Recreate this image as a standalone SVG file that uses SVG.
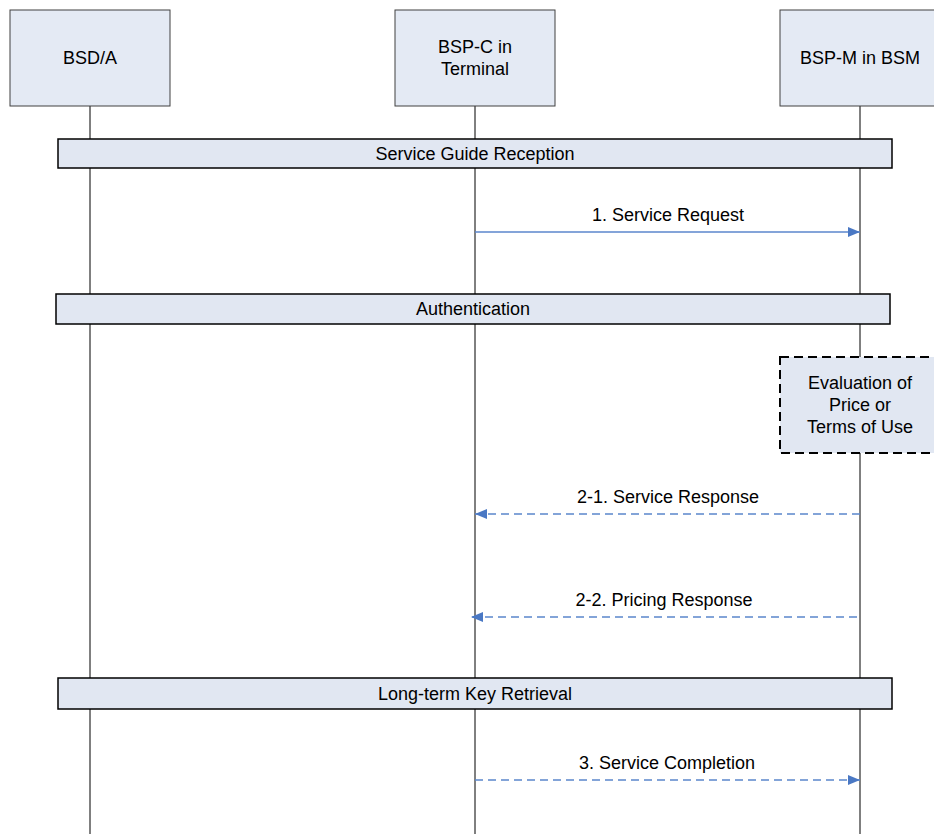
<svg xmlns="http://www.w3.org/2000/svg" width="934" height="834" viewBox="0 0 934 834">
<style>
  text { font-family: "Liberation Sans", Arial, sans-serif; font-size: 18px; fill: #000; text-anchor: middle; }
  .actor { fill: #e4eaf4; stroke: #404040; stroke-width: 1; }
  .bar { fill: #e1e7f2; stroke: #000; stroke-width: 1.5; }
  .life { stroke: #000; stroke-width: 1; fill: none; }
  .msg { stroke: #5b86cc; stroke-width: 1.3; fill: none; }
  .dash { stroke-dasharray: 8 5; }
  .eval { fill: #e1e7f2; stroke: #000; stroke-width: 2; stroke-dasharray: 9 5; }
</style>
<defs>
  <marker id="ah" markerWidth="12" markerHeight="10" refX="12" refY="5" orient="auto" markerUnits="userSpaceOnUse">
    <path d="M0,0 L12,5 L0,10 Z" fill="#4a78c4"/>
  </marker>
</defs>
<rect width="934" height="834" fill="#fff"/>
<g id="lifelines">
  <line class="life" x1="90" y1="106" x2="90" y2="834"/>
  <line class="life" x1="475" y1="106" x2="475" y2="834"/>
  <line class="life" x1="860" y1="106" x2="860" y2="834" stroke="#555"/>
</g>
<g id="actor-bsda">
  <rect class="actor" x="10" y="10" width="160" height="96"/>
  <text x="90" y="64">BSD/A</text>
</g>
<g id="actor-bspc">
  <rect class="actor" x="395" y="10" width="160" height="96"/>
  <text x="475" y="53">BSP-C in</text>
  <text x="475" y="75">Terminal</text>
</g>
<g id="actor-bspm">
  <rect class="actor" x="780" y="10" width="160" height="96"/>
  <text x="860" y="64">BSP-M in BSM</text>
</g>
<g id="bar-sgr">
  <rect class="bar" x="58" y="139" width="834" height="29"/>
  <text x="475" y="160">Service Guide Reception</text>
</g>
<g id="bar-auth">
  <rect class="bar" x="56" y="294" width="834" height="30"/>
  <text x="473" y="315">Authentication</text>
</g>
<g id="eval">
  <rect class="eval" x="780" y="357" width="160" height="96"/>
  <text x="860" y="389">Evaluation of</text>
  <text x="860" y="411">Price or</text>
  <text x="860" y="433">Terms of Use</text>
</g>
<g id="bar-ltk">
  <rect class="bar" x="58" y="678" width="834" height="31"/>
  <text x="475" y="700">Long-term Key Retrieval</text>
</g>
<g id="connectors">
  <line class="msg" x1="475" y1="232" x2="860" y2="232" stroke="#8eaee0" marker-end="url(#ah)"/>
  <line class="msg dash" x1="860" y1="514" x2="475" y2="514" marker-end="url(#ah)"/>
  <line class="msg dash" x1="857" y1="617" x2="471" y2="617" stroke="#7fa2dc" marker-end="url(#ah)"/>
  <line class="msg dash" x1="475" y1="780" x2="860" y2="780" stroke="#7fa2dc" marker-end="url(#ah)"/>
</g>
<g id="labels">
  <text x="668" y="221">1. Service Request</text>
  <text x="668" y="503">2-1. Service Response</text>
  <text x="664" y="606">2-2. Pricing Response</text>
  <text x="667" y="769">3. Service Completion</text>
</g>
</svg>
